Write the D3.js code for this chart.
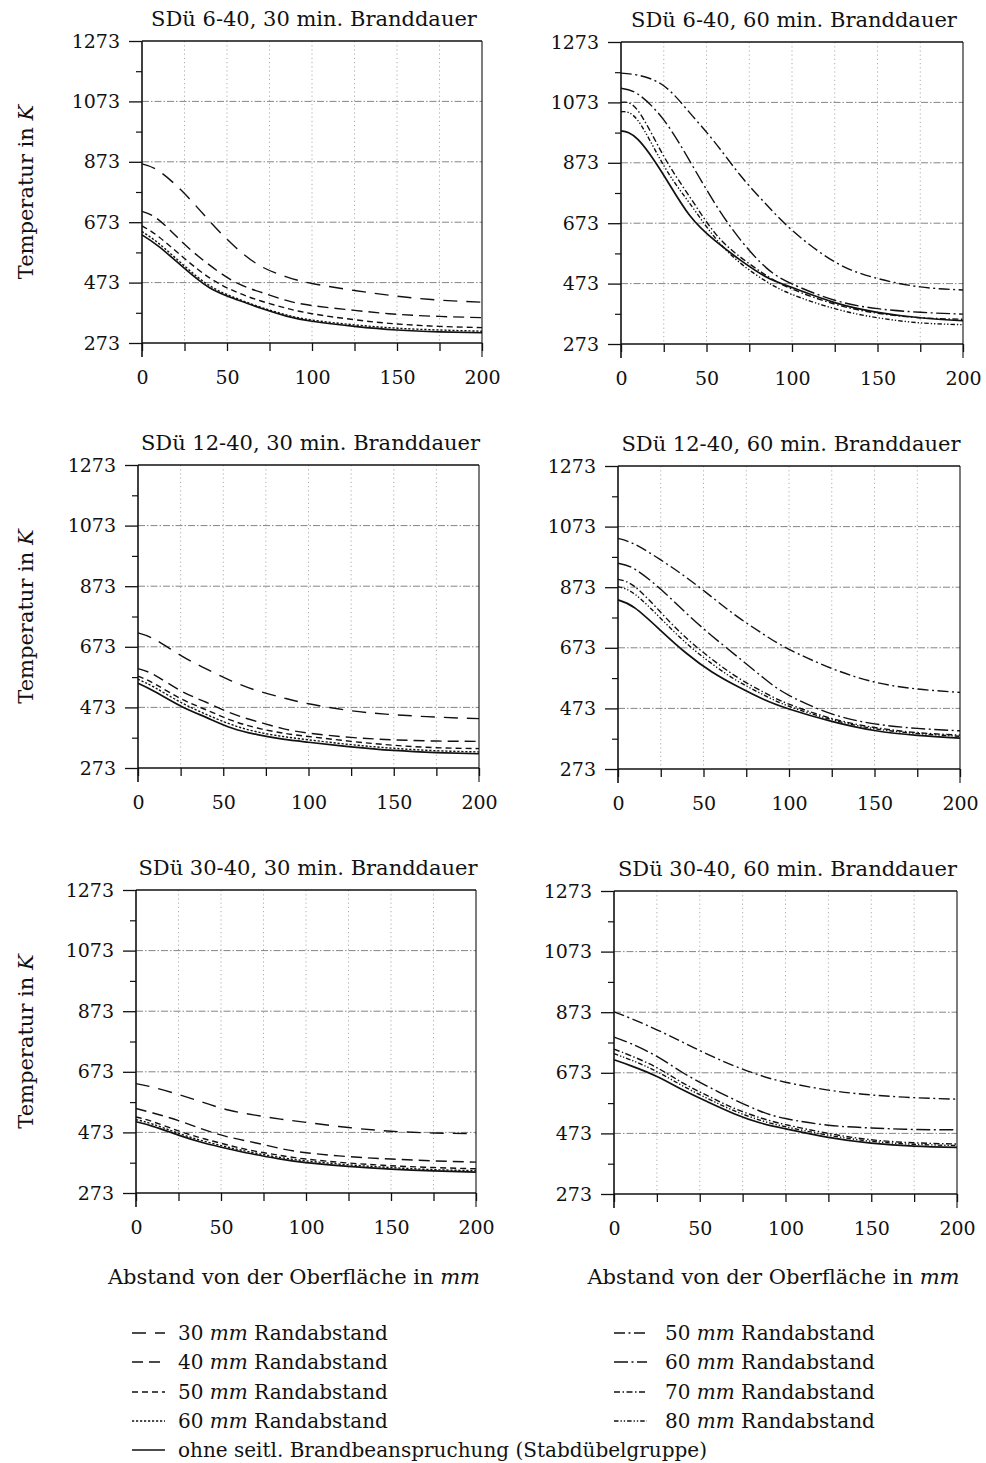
<!DOCTYPE html>
<html>
<head>
<meta charset="utf-8">
<script src="https://cdn.jsdelivr.net/npm/d3@7"></script>
<style>
  html, body { margin: 0; padding: 0; background: #fff; }
  svg { display: block; }
  text { font-family: "DejaVu Serif", "Liberation Serif", serif; fill: #111; }
</style>
</head>
<body>
<svg id="chart" width="986" height="1463"></svg>
<script>
// Distance from the surface (mm) at which each temperature profile is sampled
const distance = [0, 10, 25, 40, 55, 70, 85, 100, 125, 150, 175, 200];

// Axis ticks
const yTicks = [273, 473, 673, 873, 1073, 1273];
const yMinorTicks = [373, 573, 773, 973, 1173];
const yGrid = [473, 673, 873, 1073];
const xTicks = [0, 50, 100, 150, 200];
const xAllTicks = [0, 25, 50, 75, 100, 125, 150, 175, 200];
const xGrid = [25, 50, 75, 100, 125, 150, 175];

// Series (edge distance) for 30 and 60 minutes of fire exposure
const series30min = ["r30", "r40", "r50", "r60", "ohne"];
const series60min = ["r50b", "r60b", "r70", "r80", "ohne"];

// Temperatures in K, one row per series (same order as the series lists)
const sdue6_30min = [
  [866, 842, 768, 675, 590, 527, 492, 470, 447, 428, 415, 408],
  [709, 680, 600, 530, 474, 441, 414, 397, 381, 368, 361, 357],
  [661, 624, 553, 488, 443, 412, 388, 370, 350, 336, 328, 324],
  [642, 602, 528, 462, 422, 391, 366, 349, 333, 322, 316, 312],
  [631, 592, 520, 455, 418, 388, 362, 345, 328, 316, 310, 307]
];
const sdue6_60min = [
  [1170, 1163, 1128, 1040, 940, 830, 735, 650, 545, 490, 462, 452],
  [1120, 1100, 1015, 881, 738, 617, 525, 472, 418, 390, 378, 372],
  [1073, 1045, 895, 762, 640, 560, 500, 455, 405, 375, 360, 355],
  [1042, 1012, 864, 740, 625, 540, 480, 437, 390, 360, 343, 337],
  [979, 950, 832, 700, 615, 550, 495, 460, 410, 378, 360, 350]
];
const sdue12_30min = [
  [719, 697, 645, 600, 560, 528, 505, 485, 462, 449, 441, 436],
  [601, 579, 528, 490, 453, 426, 403, 388, 374, 366, 362, 361],
  [576, 550, 502, 465, 430, 405, 388, 377, 361, 348, 340, 337],
  [566, 538, 490, 450, 416, 392, 377, 366, 350, 338, 330, 326],
  [553, 525, 478, 440, 405, 383, 368, 358, 343, 331, 324, 320]
];
const sdue12_60min = [
  [1034, 1014, 963, 905, 840, 775, 718, 668, 605, 560, 537, 526],
  [952, 932, 866, 787, 712, 643, 574, 516, 455, 422, 407, 399],
  [899, 874, 790, 705, 635, 575, 527, 487, 440, 410, 393, 385],
  [875, 849, 770, 688, 620, 563, 518, 480, 436, 406, 390, 381],
  [831, 804, 730, 655, 593, 545, 503, 471, 430, 400, 384, 375]
];
const sdue30_30min = [
  [634, 622, 598, 571, 546, 530, 517, 506, 489, 477, 471, 469],
  [552, 537, 512, 482, 457, 439, 420, 406, 393, 385, 379, 375],
  [524, 508, 478, 452, 430, 411, 397, 385, 372, 363, 357, 353],
  [515, 500, 470, 444, 423, 405, 390, 379, 366, 357, 350, 347],
  [508, 493, 464, 438, 418, 400, 385, 373, 361, 352, 346, 342]
];
const sdue30_60min = [
  [874, 852, 815, 774, 733, 696, 665, 642, 616, 600, 591, 586],
  [791, 769, 727, 674, 627, 585, 547, 522, 500, 491, 486, 485],
  [751, 729, 690, 640, 596, 556, 525, 502, 473, 452, 442, 438],
  [736, 715, 677, 630, 587, 548, 517, 495, 467, 447, 437, 433],
  [716, 696, 661, 617, 576, 538, 508, 488, 460, 441, 431, 427]
];

// Panel titles
const titles = [
  "SDü 6-40, 30 min. Branddauer", "SDü 6-40, 60 min. Branddauer",
  "SDü 12-40, 30 min. Branddauer", "SDü 12-40, 60 min. Branddauer",
  "SDü 30-40, 30 min. Branddauer", "SDü 30-40, 60 min. Branddauer"
];

// Legend entries: [series key, edge distance text]
const legendLeft = [["r30", "30"], ["r40", "40"], ["r50", "50"], ["r60", "60"]];
const legendRight = [["r50b", "50"], ["r60b", "60"], ["r70", "70"], ["r80", "80"]];
const legendSolid = "ohne seitl. Brandbeanspruchung (Stabdübelgruppe)";

// Line styles for each series
const dashStyle = {
  r30: "14,9",
  r40: "11,6",
  r50: "6,4",
  r60: "2.2,1.8",
  r50b: "11,3.5,2,3.5",
  r60b: "14,3.5,2,3.5",
  r70: "6,2.5,1.5,2.5",
  r80: "4.5,2,1.3,2,1.3,2",
  ohne: null
};

// Plot-area boxes of the six panels (left, right, top, bottom)
const boxes = [
  [142, 482, 41, 343], [621, 963, 42, 344],
  [138, 479, 465, 768], [618, 960, 466, 769],
  [136, 476, 890, 1193], [614, 957, 891, 1194]
];

const panelData = [sdue6_30min, sdue6_60min, sdue12_30min, sdue12_60min, sdue30_30min, sdue30_60min];
const panelSeries = [series30min, series60min, series30min, series60min, series30min, series60min];

const svg = d3.select("#chart");
const ink = "#111";

panelData.forEach((rows, i) => {
  const [x0, x1, y0, y1] = boxes[i];
  const x = d3.scaleLinear().domain([0, 200]).range([x0, x1]);
  const y = d3.scaleLinear().domain([273, 1273]).range([y1, y0]);
  const g = svg.append("g");

  // grid
  g.selectAll(".hgrid").data(yGrid).join("line")
    .attr("x1", x0).attr("x2", x1)
    .attr("y1", d => y(d)).attr("y2", d => y(d))
    .attr("stroke", "#777").attr("stroke-width", 0.9)
    .attr("stroke-dasharray", "7,2,1.5,2");
  g.selectAll(".vgrid").data(xGrid).join("line")
    .attr("x1", d => x(d)).attr("x2", d => x(d))
    .attr("y1", y0).attr("y2", y1)
    .attr("stroke", "#999").attr("stroke-width", 0.8)
    .attr("stroke-dasharray", "1.2,3");

  // y axis: major ticks with labels, minor ticks without
  const yAxis = g.append("g").attr("transform", `translate(${x0},0)`)
    .call(d3.axisLeft(y).tickValues(yTicks).tickSize(13).tickSizeOuter(0).tickPadding(9).tickFormat(d3.format("d")));
  yAxis.select(".domain").remove();
  yAxis.selectAll("line").attr("stroke", ink).attr("stroke-width", 1.3);
  yAxis.selectAll("text").attr("font-size", 19).attr("font-family", "DejaVu Serif").attr("fill", ink);
  const yMinor = g.append("g").attr("transform", `translate(${x0},0)`)
    .call(d3.axisLeft(y).tickValues(yMinorTicks).tickSize(6).tickFormat(""));
  yMinor.select(".domain").remove();
  yMinor.selectAll("line").attr("stroke", ink).attr("stroke-width", 1.2);

  // x axis
  const xAxis = g.append("g").attr("transform", `translate(0,${y1})`)
    .call(d3.axisBottom(x).tickValues(xAllTicks).tickSize(8).tickSizeOuter(0).tickPadding(20)
      .tickFormat(d => xTicks.includes(d) ? d : ""));
  xAxis.select(".domain").remove();
  xAxis.selectAll("line").attr("stroke", ink).attr("stroke-width", 1.3);
  xAxis.selectAll("text").attr("font-size", 19).attr("font-family", "DejaVu Serif").attr("fill", ink);

  // frame
  g.append("line").attr("x1", x0).attr("x2", x1).attr("y1", y0).attr("y2", y0)
    .attr("stroke", ink).attr("stroke-width", 1.6);
  g.append("line").attr("x1", x0).attr("x2", x1).attr("y1", y1).attr("y2", y1)
    .attr("stroke", ink).attr("stroke-width", 1.6);
  g.append("line").attr("x1", x0).attr("x2", x0).attr("y1", y0).attr("y2", y1 + 14)
    .attr("stroke", ink).attr("stroke-width", 1.6);
  g.append("line").attr("x1", x1).attr("x2", x1).attr("y1", y0).attr("y2", y1 + 14)
    .attr("stroke", ink).attr("stroke-width", 1.1);

  // temperature profiles
  const line = d3.line()
    .x((d, j) => x(distance[j]))
    .y(d => y(d))
    .curve(d3.curveNatural);
  rows.forEach((vals, k) => {
    const key = panelSeries[i][k];
    g.append("path")
      .attr("d", line(vals))
      .attr("fill", "none")
      .attr("stroke", ink)
      .attr("stroke-width", key === "ohne" ? 1.7 : 1.4)
      .attr("stroke-dasharray", dashStyle[key]);
  });

  // title
  g.append("text")
    .attr("x", (x0 + x1) / 2 + 2).attr("y", y0 - 15)
    .attr("text-anchor", "middle").attr("font-size", 21)
    .text(titles[i]);

  // y axis title on the left column
  if (i % 2 === 0) {
    const t = g.append("text")
      .attr("transform", `translate(33,${(y0 + y1) / 2}) rotate(-90)`)
      .attr("text-anchor", "middle").attr("font-size", 21);
    t.append("tspan").text("Temperatur in ");
    t.append("tspan").attr("font-style", "italic").text("K");
  }

  // x axis title below the bottom row
  if (i >= 4) {
    const t = g.append("text")
      .attr("x", (x0 + x1) / 2 - 12).attr("y", 1284)
      .attr("text-anchor", "middle").attr("font-size", 21);
    t.append("tspan").text("Abstand von der Oberfläche in ");
    t.append("tspan").attr("font-style", "italic").text("mm");
  }
});

// legend
const legendRowY = [1333, 1362, 1392, 1421, 1450];
function legendEntry(xLine, xText, yRow, key, label, italicPart) {
  const g = svg.append("g");
  g.append("line")
    .attr("x1", xLine).attr("x2", xLine + 33)
    .attr("y1", yRow).attr("y2", yRow)
    .attr("stroke", ink)
    .attr("stroke-width", key === "ohne" ? 1.7 : 1.4)
    .attr("stroke-dasharray", dashStyle[key]);
  const t = g.append("text").attr("x", xText).attr("y", yRow + 7).attr("font-size", 20);
  if (italicPart) {
    t.append("tspan").text(label + " ");
    t.append("tspan").attr("font-style", "italic").text(italicPart);
    t.append("tspan").text(" Randabstand");
  } else {
    t.text(label);
  }
}
legendLeft.forEach(([key, mm], k) => legendEntry(132, 178, legendRowY[k], key, mm, "mm"));
legendRight.forEach(([key, mm], k) => legendEntry(614, 665, legendRowY[k], key, mm, "mm"));
legendEntry(132, 178, legendRowY[4], "ohne", legendSolid, null);
</script>
</body>
</html>
